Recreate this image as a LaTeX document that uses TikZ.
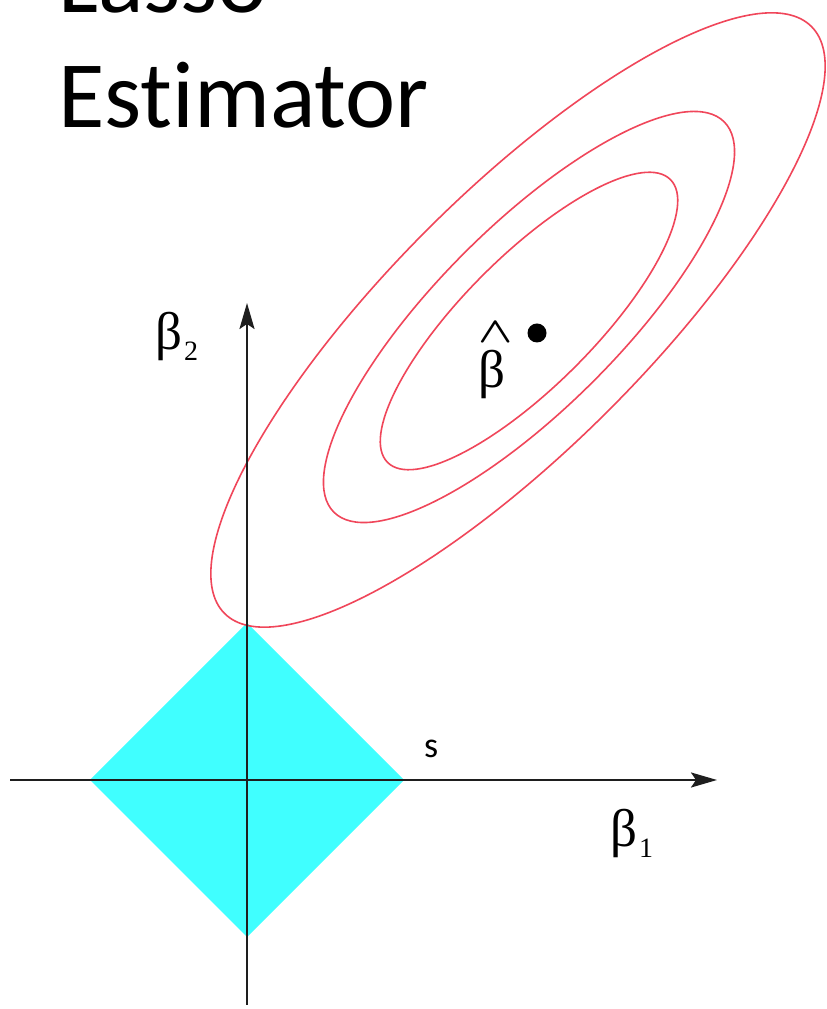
\documentclass[tikz,border=0pt]{standalone}
\usepackage{fontspec}
\newfontfamily\titlefont[Ligatures=NoCommon]{Carlito}
\newfontfamily\grfont{Liberation Serif}
\usetikzlibrary{arrows.meta}
\definecolor{diamondcyan}{RGB}{64,255,255}
\definecolor{contourred}{RGB}{240,70,90}
\definecolor{axisgray}{RGB}{30,30,30}
\begin{document}
\begin{tikzpicture}[x=1pt,y=1pt,
  axisline/.style={draw=axisgray, line width=2.2pt, -{Stealth[length=26pt,width=15pt,inset=5pt]}},
  contour/.style={draw=contourred, line width=1.6pt},
  glbl/.style={font=\grfont\fontsize{53}{53}\selectfont, inner sep=0pt},
  ttl/.style={font=\titlefont\fontsize{95}{95}\selectfont, inner sep=0pt, anchor=base west}
]
\clip (0,0) rectangle (827,1009);
\fill[white] (0,0) rectangle (827,1009);
% title
\node[ttl] (lasso) at (58,996) {Lasso};
\node[ttl] (est) at (58,881) {Est\kern0pt imator};
% constraint region
\fill[diamondcyan] (247,386) -- (404,229) -- (247,72) -- (90,229) -- cycle;
% contours
\draw[contour, rotate around={45:(518,689)}] (518,689) ellipse [x radius=415, y radius=128];
\draw[contour, rotate around={45:(529,692)}] (529,692) ellipse [x radius=276, y radius=91];
\draw[contour, rotate around={45:(529,688)}] (529,688) ellipse [x radius=200, y radius=65];
% axes
\coordinate (xs) at (10,229);
\coordinate (xe) at (717,229);
\coordinate (ys) at (247,4);
\coordinate (ye) at (247,706);
\draw[axisline] (xs) -- (xe);
\draw[axisline] (ys) -- (ye);
% estimate
\node[circle, fill=black, inner sep=0pt, minimum size=19pt] (bhatdot) at (537,676) {};
\node[glbl, anchor=base west] (bhat) at (478,621)
  {\makebox[0pt][l]{\raisebox{45pt}{\boldmath\scalebox{1.8}[1.45]{$\wedge$}}}β};
% labels
\node[glbl, anchor=base west] (b2) at (155,659)
  {β\hspace{2pt}\raisebox{-11pt}{\fontsize{28}{28}\selectfont 2}};
\node[glbl, anchor=base west] (b1) at (610,162)
  {β\hspace{2pt}\raisebox{-11pt}{\fontsize{28}{28}\selectfont 1}};
\node[font=\titlefont\fontsize{36}{36}\selectfont, inner sep=0pt, anchor=base west] (s) at (424,251) {s};
\end{tikzpicture}
\end{document}
